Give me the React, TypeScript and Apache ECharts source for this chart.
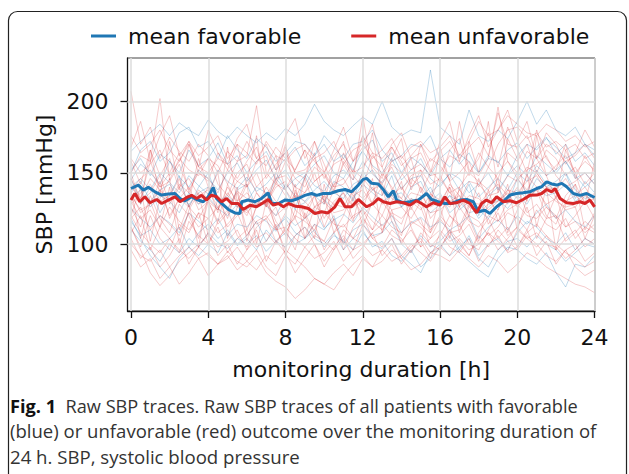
import React, { useEffect, useRef } from "react";
import * as echarts from "echarts";

// ---------------- data ----------------
const hours = [
  0, 0.5, 1, 1.5, 2, 2.5, 3, 3.5, 4, 4.5, 5, 5.5, 6, 6.5, 7, 7.5, 8, 8.5, 9, 9.5,
  10, 10.5, 11, 11.5, 12, 12.5, 13, 13.5, 14, 14.5, 15, 15.5, 16, 16.5, 17, 17.5,
  18, 18.5, 19, 19.5, 20, 20.5, 21, 21.5, 22, 22.5, 23, 23.5, 24,
];

const xTicks = [0, 4, 8, 12, 16, 20, 24];
const yTicks = [100, 150, 200];

// raw traces, favorable outcome (blue)
const fav1 = [165,172,178,184,176,185,180,176,187,179,174,182,176,171,178,173,181,176,184,198,186,180,176,183,189,184,200,182,176,180,178,222,182,176,170,194,176,172,180,174,186,200,184,194,180,176,182,170,166];
const fav2 = [152,160,148,163,158,150,166,155,160,171,156,162,150,158,165,152,160,168,155,162,170,158,163,152,166,173,158,164,150,161,156,148,160,154,163,158,150,162,157,166,171,160,168,175,163,170,158,164,155];
const fav3 = [140,146,138,150,143,136,148,141,135,152,144,139,147,137,142,150,139,146,150,141,137,148,152,145,158,149,143,151,139,146,148,136,142,149,138,144,133,140,146,138,150,144,155,148,152,158,146,150,142];
const fav4 = [132,138,126,134,130,122,136,128,133,125,120,128,124,131,127,120,133,126,129,136,131,125,138,132,142,136,130,134,126,132,129,122,128,134,124,130,118,126,131,125,134,128,140,134,136,142,130,135,128];
const fav5 = [125,118,112,120,115,108,122,116,110,118,106,114,112,120,116,109,120,113,118,124,111,117,121,115,126,119,113,120,108,115,119,112,116,110,114,120,104,112,117,110,120,114,122,128,118,124,116,112,120];
const fav6 = [110,102,96,88,100,94,104,98,108,101,97,104,100,106,95,102,108,100,104,110,98,106,102,96,108,100,97,104,92,86,80,94,100,92,98,104,90,84,96,102,104,98,106,100,96,88,94,100,98];
const fav7 = [118,104,92,84,76,90,98,92,100,94,108,99,104,96,110,102,98,106,112,104,100,108,96,104,110,98,102,92,88,96,84,90,98,106,94,88,82,77,90,98,96,90,86,94,80,70,86,84,92];
const fav8 = [145,156,150,142,158,147,140,152,146,138,150,157,144,152,159,146,152,140,148,156,162,150,146,158,165,155,150,160,145,152,160,146,140,150,146,136,142,150,138,148,155,148,162,156,150,158,148,140,146];
const fav9 = [146,128,140,122,134,148,126,140,150,132,124,138,142,126,130,146,138,124,148,134,128,144,140,130,152,138,134,148,126,140,144,130,136,122,128,142,120,134,140,128,146,136,152,142,138,150,132,144,136];
const fav10 = [150,166,172,158,164,178,182,168,172,160,176,166,160,174,168,158,164,172,170,162,176,168,160,170,172,180,166,158,162,170,168,176,160,166,156,164,150,160,158,148,162,170,166,174,168,160,164,170,162];
const fav11 = [116,106,110,100,104,112,98,108,114,104,110,100,106,116,102,112,118,108,104,114,110,120,100,110,114,106,108,116,100,94,106,98,102,110,96,106,92,100,104,96,108,116,112,104,100,108,96,104,100];
const fav12 = [136,144,130,138,142,132,128,136,140,130,134,126,130,140,136,128,142,134,130,138,144,136,132,142,146,152,140,134,136,128,132,140,126,134,130,122,124,118,128,134,138,132,146,140,144,150,138,132,134];

// raw traces, unfavorable outcome (red)
const unf1 = [207,170,182,160,175,165,158,170,162,150,165,158,172,160,155,168,160,152,166,158,150,162,170,158,176,164,160,168,155,162,170,158,165,172,160,168,175,162,192,170,168,176,160,170,165,158,162,170,160];
const unf2 = [150,162,158,202,145,160,152,148,160,155,142,158,162,197,150,142,158,146,140,154,148,138,156,145,190,150,142,156,150,140,148,160,155,145,186,152,148,160,196,158,150,165,160,148,155,162,150,158,152];
const unf3 = [140,132,146,138,130,142,136,128,140,134,125,137,132,126,140,130,124,136,130,122,134,128,126,138,132,140,128,134,140,130,124,135,131,126,138,130,128,136,142,134,146,138,150,140,136,130,134,140,130];
const unf4 = [120,108,100,94,104,96,90,98,92,86,95,88,84,92,80,74,70,62,68,76,72,80,86,78,90,84,96,88,92,100,94,88,98,92,104,96,100,108,102,95,110,104,98,106,100,94,90,84,88];
const unf5 = [112,96,80,71,78,88,94,100,106,98,102,110,96,104,108,100,112,104,98,106,102,96,110,104,100,108,114,106,102,110,98,104,110,102,106,114,100,108,96,104,112,104,108,100,98,90,96,104,100];
const unf6 = [118,126,110,120,114,106,122,112,118,108,114,122,106,116,120,110,112,118,104,114,96,108,114,104,118,110,120,112,108,116,112,104,118,108,110,120,116,106,112,122,118,110,124,114,110,118,104,112,108];
const unf7 = [128,136,142,130,134,146,126,138,132,124,140,130,136,128,130,142,138,128,124,134,118,130,136,126,130,138,142,132,128,136,134,126,130,140,126,134,132,124,130,138,136,144,148,136,130,126,128,136,126];
const unf8 = [160,150,156,166,148,158,170,154,150,160,156,146,158,168,146,156,164,150,152,160,146,156,160,150,154,164,148,158,162,152,156,148,150,162,158,148,164,154,170,180,182,174,178,168,172,166,170,160,164];
const unf9 = [130,118,124,112,126,116,110,122,118,126,112,120,124,114,118,126,108,120,116,110,122,114,112,120,124,116,110,122,118,126,114,108,120,112,126,116,112,120,116,124,128,120,118,126,120,112,116,108,114];
const unf10 = [100,92,88,96,84,92,98,90,94,86,90,98,88,82,92,86,96,90,84,76,72,68,78,86,92,84,88,96,90,82,86,94,92,88,96,90,84,92,88,80,86,94,90,84,80,76,72,70,66];
const unf11 = [150,128,166,134,172,140,130,160,140,122,168,130,144,176,126,150,170,132,146,164,128,158,172,136,150,178,134,160,174,138,152,128,168,144,126,172,150,186,136,174,160,130,176,148,132,166,150,128,158];
const unf12 = [120,140,102,132,146,110,128,98,136,150,104,126,142,100,130,112,96,138,120,104,142,116,100,134,124,146,108,130,144,112,98,136,126,104,140,118,102,130,146,108,124,150,112,140,96,128,142,110,122];
const unf13 = [138,146,152,140,144,156,138,150,146,136,152,144,140,150,134,146,148,140,136,144,150,140,142,152,146,138,144,154,138,148,152,142,146,136,140,150,144,138,150,158,146,152,156,162,148,140,144,150,142];
const unf14 = [108,120,96,112,104,94,116,106,100,112,94,104,110,98,102,114,92,106,112,100,88,98,106,96,114,104,98,110,104,94,108,100,96,110,102,92,108,118,104,112,98,108,114,106,96,104,110,98,104];
const unf15 = [176,164,170,180,166,158,172,162,168,176,160,170,164,156,172,162,158,166,170,160,164,172,156,166,170,160,166,174,160,168,172,164,168,176,162,172,186,176,180,190,184,178,176,184,180,172,176,168,172];
const unf16 = [134,124,128,138,120,132,126,118,130,124,136,126,122,130,128,120,126,134,118,126,130,122,124,132,120,128,132,124,126,118,130,122,124,130,134,126,122,128,130,136,126,134,138,128,132,124,126,134,128];
const unf17 = [158,142,166,148,160,138,170,150,144,164,152,170,140,158,162,144,168,150,146,172,156,140,164,150,176,154,146,168,158,142,170,152,144,166,174,150,160,178,154,182,166,150,180,160,152,170,146,162,150];
const unf18 = [126,112,134,118,108,128,120,104,130,114,122,136,110,126,132,116,106,124,118,134,112,128,136,118,124,110,130,120,114,132,126,108,134,120,112,128,122,138,116,130,140,122,128,118,134,112,120,130,118];
const unf19 = [104,90,98,84,92,104,86,98,108,92,100,86,96,110,88,102,94,80,90,100,84,96,104,90,98,108,92,100,86,96,102,90,108,98,94,104,88,100,106,94,98,110,92,102,86,96,100,88,94];
const unf20 = [146,132,158,140,150,164,136,152,160,142,134,150,156,140,148,162,138,152,166,144,150,136,158,148,140,162,154,138,148,160,136,150,162,144,150,158,140,154,146,164,158,170,150,166,160,148,154,142,150];
const unf21 = [136,122,128,144,118,132,140,124,130,116,142,128,120,136,126,144,134,118,146,126,122,138,130,116,144,128,120,136,132,124,140,118,126,142,134,120,146,130,124,138,132,148,140,126,118,134,142,128,136];
const unf22 = [168,186,158,176,190,162,172,154,180,164,156,174,184,160,170,152,176,188,160,172,150,166,182,158,168,184,154,170,178,160,164,150,172,186,158,176,190,168,180,194,172,186,160,178,170,156,164,180,168];
const unf23 = [112,98,120,104,96,114,108,122,100,116,124,106,98,112,118,102,110,96,122,108,102,118,96,112,120,104,108,124,100,114,118,98,106,120,114,100,96,110,122,106,112,126,104,118,120,102,108,116,110];
const unf24 = [96,84,90,76,84,72,80,90,78,86,92,82,88,96,84,78,92,86,98,90,94,102,88,96,100,92,96,104,90,98,104,94,98,108,100,92,106,98,110,102,96,106,100,92,88,96,84,78,82];
const unf25 = [142,130,136,148,128,140,146,134,138,126,132,144,150,136,128,140,144,132,136,150,130,142,146,134,138,128,150,140,132,146,140,130,148,136,130,144,142,134,136,148,144,154,150,140,138,146,134,128,132];
const unf26 = [138,104,130,112,140,100,124,136,106,132,118,140,102,128,136,110,122,142,104,126,134,108,120,138,112,130,140,116,106,128,132,110,118,140,108,126,136,114,124,142,110,132,138,120,114,130,126,104,120];

// mean traces (hour, value)
const meanFavHours = [0,0.38,0.64,0.9,1.24,1.59,1.93,2.28,2.54,2.8,3.14,3.4,3.74,4,4.26,4.43,4.69,5.04,5.38,5.64,5.73,6.07,6.42,6.76,7.1,7.28,7.63,7.97,8.31,8.66,9,9.35,9.61,9.95,10.3,10.73,11.08,11.42,11.77,12.02,12.2,12.46,12.8,13.06,13.32,13.58,13.75,14.1,14.44,14.87,15.3,15.56,15.9,16.25,16.6,17.03,17.38,17.72,17.98,18.32,18.58,18.93,19.27,19.62,19.96,20.3,20.65,21,21.26,21.52,21.78,22.04,22.3,22.55,22.9,23.24,23.59,24];
const meanFavValues = [139,141.4,137.9,139.8,136.7,134.4,135.1,135.5,132,130.4,133.2,131.3,129.7,133.2,139.8,132,128.5,124.3,121.9,121.5,129.7,130.9,129.7,132,136,128.5,128.5,130.9,130.4,132,134.2,135.5,134.2,135.5,135.5,137.4,138.3,136.7,141.4,145.4,146.1,142.6,142.2,138.3,133.2,137.4,130.9,129,129.7,130.9,135.5,131.3,129.7,128.5,128.5,130.9,131.3,129.7,122.7,123.8,121.5,126.2,129.7,134.4,135.5,136,136.7,139,140.2,143.7,142.2,141.4,142.6,140.2,135.5,134.2,135.5,132.7];
const meanUnfHours = [0,0.2,0.46,0.72,0.98,1.33,1.59,1.93,2.28,2.54,2.88,3.14,3.4,3.66,3.92,4.17,4.43,4.69,4.95,5.21,5.55,5.81,6.16,6.5,6.85,7.1,7.37,7.63,7.89,8.15,8.5,8.84,9.18,9.52,9.87,10.2,10.56,10.82,11.08,11.42,11.77,12.2,12.54,12.8,13.06,13.41,13.75,14.1,14.44,14.78,15.04,15.3,15.65,15.99,16.25,16.51,16.85,17.2,17.55,17.89,18.15,18.4,18.67,18.93,19.27,19.62,19.96,20.3,20.65,21,21.26,21.52,21.78,21.95,22.21,22.55,22.9,23.24,23.5,23.76,24];
const meanUnfValues = [130.9,135.5,129.7,133.2,129,131.3,128.5,130.9,133.2,129.7,132.7,134.2,132,134.2,130.9,134.4,133.2,129.7,132,128.5,128.5,124.3,127.3,126.2,129,131.3,127.3,128.5,126.2,128.5,126.6,126.2,125,121.5,122.7,121.9,126.2,132,126.2,126.2,131.3,126.2,128.5,132,129.7,128.5,129.7,129,127.3,130.4,128.5,126.2,129,127.3,133.2,128.5,129,130.9,128.5,121.9,128.5,130.9,129,133.2,129.7,130.4,129,131.3,134.2,134.4,135.5,138.3,136.7,139,132,129,128.5,129.7,128.5,130.9,126.2];

const favTraces = [fav1, fav2, fav3, fav4, fav5, fav6, fav7, fav8, fav9, fav10, fav11, fav12];
const unfTraces = [unf1, unf2, unf3, unf4, unf5, unf6, unf7, unf8, unf9, unf10, unf11, unf12, unf13, unf14, unf15, unf16, unf17, unf18, unf19, unf20, unf21, unf22, unf23, unf24, unf25, unf26];

const captionBold = "Fig. 1";
const captionLine1 = "  Raw SBP traces. Raw SBP traces of all patients with favorable";
const captionLine2 = "(blue) or unfavorable (red) outcome over the monitoring duration of";
const captionLine3 = "24 h. SBP, systolic blood pressure";

// ---------------- style ----------------
const FONT = "'DejaVu Sans', sans-serif";
const CAP_FONT = "'Open Sans', 'Noto Sans', sans-serif";
const BLUE = "#1f77b4";
const RED = "#d62728";
const TEXT = "#111111";

function measure(text: string, font: string): number {
  const c = document.createElement("canvas").getContext("2d");
  if (!c) return text.length * 8;
  c.font = font;
  return c.measureText(text).width;
}

export default function App() {
  const ref = useRef<HTMLDivElement>(null);

  useEffect(() => {
    if (!ref.current) return;
    const chart = echarts.init(ref.current, null, { renderer: "svg" });

    const capSize = 18.5;
    const wBold = measure(captionBold, `bold ${capSize}px 'Open Sans'`);
    const w1 = measure(captionLine1, `${capSize}px 'Open Sans'`);
    const w2 = measure(captionLine2, `${capSize}px 'Open Sans'`);
    const w3 = measure(captionLine3, `${capSize}px 'Open Sans'`);
    const s1 = 568 / (wBold + w1);
    const s2 = 587 / w2;
    const s3 = 290 / w3;

    const rawSeries: any[] = [];
    favTraces.forEach((tr, k) => {
      rawSeries.push({
        name: "fav" + k,
        type: "line",
        data: hours.map((h, i) => [h, tr[i]]),
        showSymbol: false,
        symbol: "none",
        silent: true,
        z: 2,
        lineStyle: { width: 0.9, color: "rgba(31,119,180,0.3)" },
        itemStyle: { color: "rgba(31,119,180,0.3)" },
      });
    });
    unfTraces.forEach((tr, k) => {
      rawSeries.push({
        name: "unf" + k,
        type: "line",
        data: hours.map((h, i) => [h, tr[i]]),
        showSymbol: false,
        symbol: "none",
        silent: true,
        z: 2,
        lineStyle: { width: 0.9, color: "rgba(214,39,40,0.27)" },
        itemStyle: { color: "rgba(214,39,40,0.27)" },
      });
    });

    const gridSeries = {
      name: "grid",
      type: "line",
      data: [],
      silent: true,
      z: 1,
      markLine: {
        silent: true,
        symbol: ["none", "none"],
        label: { show: false },
        lineStyle: { color: "#dddddd", width: 1.5, type: "solid" },
        data: [
          ...xTicks.map((v) => ({ xAxis: v })),
          ...yTicks.map((v) => ({ yAxis: v })),
        ],
      },
    };

    const option: any = {
      animation: false,
      backgroundColor: "#ffffff",
      grid: {
        left: 127.5,
        right: 34,
        top: 58,
        bottom: 163,
        show: true,
        borderColor: "#444",
        borderWidth: 1,
        backgroundColor: "transparent",
      },
      legend: {
        left: 86,
        top: 20,
        itemWidth: 25,
        itemHeight: 3,
        itemGap: 50,
        icon: "rect",
        textStyle: { fontFamily: FONT, fontSize: 22, color: TEXT, padding: [0, 0, 0, 7] },
        data: ["mean favorable", "mean unfavorable"],
      },
      xAxis: {
        type: "value",
        min: -0.18,
        max: 24.02,
        axisLine: { show: true, onZero: false, lineStyle: { color: TEXT, width: 1.3 } },
        axisTick: { show: true, customValues: xTicks, length: 7, lineStyle: { color: TEXT, width: 1.3 } },
        axisLabel: { customValues: xTicks, margin: 15, fontFamily: FONT, fontSize: 22, color: TEXT },
        splitLine: { show: false },
        name: "monitoring duration [h]",
        nameLocation: "middle",
        nameGap: 47,
        nameTextStyle: { fontFamily: FONT, fontSize: 22, color: TEXT },
      },
      yAxis: {
        type: "value",
        min: 53.2,
        max: 230.4,
        axisLine: { show: true, onZero: false, lineStyle: { color: TEXT, width: 1.3 } },
        axisTick: { show: true, customValues: yTicks, length: 7, lineStyle: { color: TEXT, width: 1.3 } },
        axisLabel: { customValues: yTicks, margin: 19, fontFamily: FONT, fontSize: 22, color: TEXT },
        splitLine: { show: false },
        name: "SBP [mmHg]",
        nameLocation: "middle",
        nameGap: 70,
        nameTextStyle: { fontFamily: FONT, fontSize: 22, color: TEXT },
      },
      series: [
        gridSeries,
        ...rawSeries,
        {
          name: "mean favorable",
          type: "line",
          data: meanFavHours.map((h, i) => [h, meanFavValues[i]]),
          showSymbol: false,
          symbol: "none",
          z: 5,
          lineStyle: { width: 3, color: BLUE },
          itemStyle: { color: BLUE },
        },
        {
          name: "mean unfavorable",
          type: "line",
          data: meanUnfHours.map((h, i) => [h, meanUnfValues[i]]),
          showSymbol: false,
          symbol: "none",
          z: 6,
          lineStyle: { width: 3, color: RED },
          itemStyle: { color: RED },
        },
      ],
      graphic: [
        {
          type: "rect",
          z: -10,
          silent: true,
          shape: { x: 8.5, y: 11.5, width: 618, height: 490, r: 9 },
          style: { fill: "none", stroke: "#222", lineWidth: 1.2 },
        },
        {
          type: "text",
          x: 10,
          y: 405,
          scaleX: s1,
          silent: true,
          style: {
            text: `{b|${captionBold}}{n|${captionLine1}}`,
            verticalAlign: "middle",
            rich: {
              b: { fontFamily: CAP_FONT, fontSize: capSize, fontWeight: "bold", fill: "#111" },
              n: { fontFamily: CAP_FONT, fontSize: capSize, fill: "#333" },
            },
          },
        },
        {
          type: "text",
          x: 10,
          y: 431,
          scaleX: s2,
          silent: true,
          style: { text: captionLine2, font: `${capSize}px ${CAP_FONT}`, fill: "#333", verticalAlign: "middle" },
        },
        {
          type: "text",
          x: 10,
          y: 457,
          scaleX: s3,
          silent: true,
          style: { text: captionLine3, font: `${capSize}px ${CAP_FONT}`, fill: "#333", verticalAlign: "middle" },
        },
      ],
    };

    chart.setOption(option);
    return () => chart.dispose();
  }, []);

  return (
    <div
      ref={ref}
      style={{ position: "fixed", left: 0, top: 0, width: 629, height: 474, background: "#fff" }}
    />
  );
}
